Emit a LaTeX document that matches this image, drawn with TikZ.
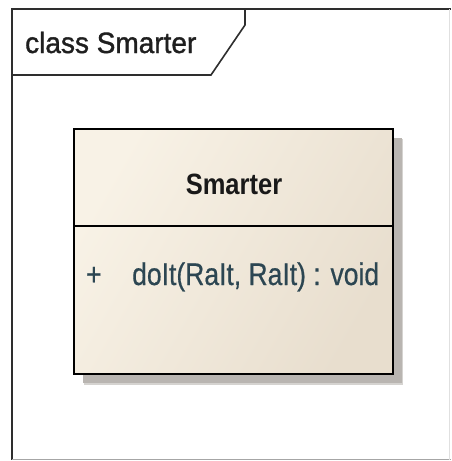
\documentclass[tikz,border=0pt]{standalone}
\usepackage{fontspec}
\setmainfont{Liberation Sans}
\newfontfamily\heavyfont[FakeBold=1.2]{Liberation Sans}
\newfontfamily\medfont[FakeBold=0.6]{Liberation Sans}
\usetikzlibrary{shadows,calc}
\definecolor{framecol}{HTML}{2E2E2E}
\definecolor{boxleft}{HTML}{F8F2E6}
\definecolor{boxright}{HTML}{E8DECE}
\definecolor{opcol}{HTML}{2C4652}
\definecolor{shadowcol}{HTML}{B9B5B1}
\tikzset{
  framestyle/.style={draw=framecol, line width=1.6pt},
  boxline/.style={draw=black, line width=2pt},
  tabtext/.style={font=\heavyfont\fontsize{28}{30}\selectfont, text=black!88, inner sep=0pt},
  classname/.style={font=\fontsize{25.5}{28}\bfseries\selectfont, text=black!90, inner sep=0pt},
  optext/.style={font=\medfont\fontsize{26.5}{29}\selectfont, text=opcol, inner sep=0pt},
}
\begin{document}
\begin{tikzpicture}[x=1pt,y=-1pt]
\useasboundingbox (0,0) rectangle (451,461);
\fill[white] (0,0) rectangle (451,461);
% frame
\coordinate (ftl) at (12,9);
\coordinate (ftr) at (451,9);
\coordinate (fbl) at (12,459.5);
\coordinate (fbr) at (451,459.5);
\draw[framestyle] (ftr) -- (ftl) -- (fbl);
\draw[draw=black!35, line width=1.2pt] (fbl) -- (fbr);
\draw[draw=black!12, line width=0.8pt] (449,9) -- (449,459.5);
% tab
\coordinate (t1) at (12,75);
\coordinate (t2) at (211,75);
\coordinate (t3) at (245,25);
\coordinate (t4) at (245,9);
\draw[framestyle, line join=miter] (t1) -- (t2) -- (t3) -- (t4);
\node[tabtext, anchor=base west] (tab) at (25,53) {\scalebox{1}[1.05]{class Smarter}};
% class box shadow
\fill[shadowcol!60] (84,139) rectangle (403,385);
\fill[shadowcol] (83,138) rectangle (402,383);
% class box
\coordinate (bnw) at (74,129);
\coordinate (bse) at (393,374);
\shade[left color=boxleft, right color=boxright, shading angle=60] (bnw) rectangle (bse);
\draw[boxline] (bnw) rectangle (bse);
\coordinate (dl) at (74,226);
\coordinate (dr) at (393,226);
\draw[boxline] (dl) -- (dr);
\node[classname, anchor=base] (cname) at (234,194) {\scalebox{1}[1.15]{Smarter}};
\node[optext, anchor=base west] (vis) at (86,285) {\scalebox{1}[1.18]{+}};
\node[optext, anchor=base west] (op) at (132,285) {\scalebox{1}[1.18]{doIt(RaIt, RaIt) : void}};
\end{tikzpicture}
\end{document}
